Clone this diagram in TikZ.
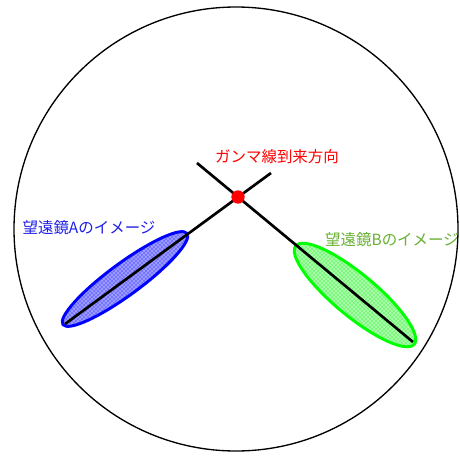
\documentclass[tikz,border=0pt]{standalone}
\usepackage{fontspec}
\newfontfamily\jpfont{Noto Sans CJK JP}
\usepackage{xcolor}
\usetikzlibrary{patterns}
\definecolor{imgblue}{RGB}{30,30,230}
\definecolor{imggreen}{RGB}{102,176,50}

\begin{document}
\begin{tikzpicture}[x=0.75pt, y=-0.75pt,
    lbl/.style={font=\jpfont\fontsize{11.6}{13}\selectfont, inner sep=0pt}]
    \useasboundingbox (0,0) rectangle (460,457);
    % field of view
    \draw[line width=1pt] (236,229) circle (222);
    % images of the two telescopes
    \draw[blue, line width=2.2pt, preaction={fill=blue!40}, pattern=crosshatch dots, pattern color=blue,
          rotate around={36.3:(125,279)}] (125,279) ellipse [x radius=77, y radius=16];
    \draw[green, line width=2.2pt, preaction={fill=green!35}, pattern=crosshatch dots, pattern color=green!85!black,
          rotate around={-39.7:(355,295)}] (355,295) ellipse [x radius=77, y radius=21];
    % axes of the images
    \coordinate (a1) at (65,324);
    \coordinate (a2) at (271,173);
    \coordinate (b1) at (197,163);
    \coordinate (b2) at (413,342);
    \draw[line width=2pt] (a1) -- (a2);
    \draw[line width=2pt] (b1) -- (b2);
    \node[circle, fill=red, inner sep=0pt, minimum size=10pt] (src) at (238,197) {};
    % labels
    \node[lbl, red] (srclbl) at (277,157) {ガンマ線到来方向};
    \node[lbl, imgblue] (lblA) at (89,228) {望遠鏡Aのイメージ};
    \node[lbl, imggreen] (lblB) at (392,240) {望遠鏡Bのイメージ};
\end{tikzpicture}
\end{document}
